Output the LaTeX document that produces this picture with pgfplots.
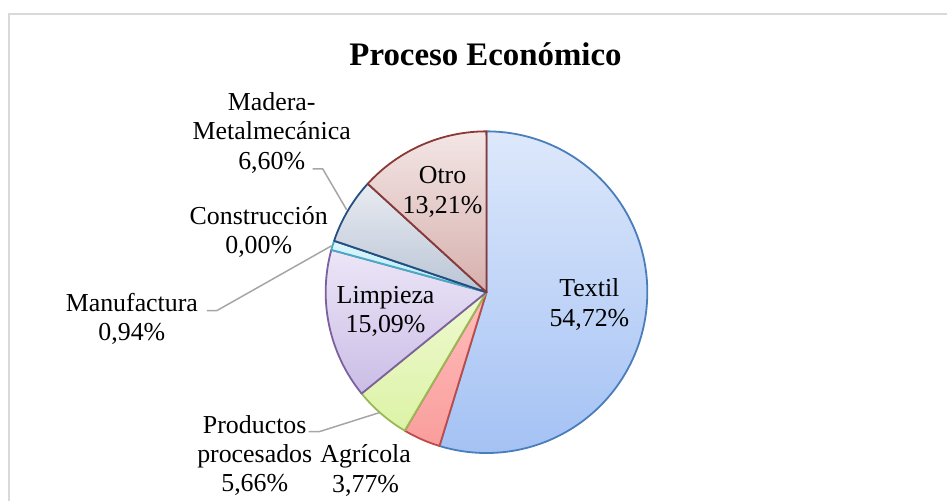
\documentclass[border=0pt]{standalone}
\usepackage{fontspec}
\setmainfont{Liberation Serif}
\usepackage{pgfplots}
\usepackage{pgfplotstable}
\pgfplotsset{compat=1.18}

% slice colours: top / bottom of gradient, border
\definecolor{t0}{HTML}{DDE8FB}\definecolor{b0}{HTML}{A3C1F4}\definecolor{d0}{HTML}{4A7EBB}
\definecolor{t1}{HTML}{FFBDBC}\definecolor{b1}{HTML}{F99E9C}\definecolor{d1}{HTML}{BE4B48}
\definecolor{t2}{HTML}{EFF9D0}\definecolor{b2}{HTML}{DCF3A6}\definecolor{d2}{HTML}{98B954}
\definecolor{t3}{HTML}{ECE6F7}\definecolor{b3}{HTML}{CBBDE6}\definecolor{d3}{HTML}{7D60A0}
\definecolor{t4}{HTML}{DDF6FC}\definecolor{b4}{HTML}{B5E8F5}\definecolor{d4}{HTML}{46AAC5}
\definecolor{t5}{HTML}{FCE0C8}\definecolor{b5}{HTML}{F9C79F}\definecolor{d5}{HTML}{1F497D}
\definecolor{t6}{HTML}{E8EBF1}\definecolor{b6}{HTML}{BAC5D5}\definecolor{d6}{HTML}{254F80}
\definecolor{t7}{HTML}{F3E6E5}\definecolor{b7}{HTML}{D6B0AD}\definecolor{d7}{HTML}{8C3836}
\definecolor{leader}{HTML}{A6A6A6}
\definecolor{frame}{HTML}{D9D9D9}

\pgfplotstableread[col sep=comma]{
label,value
Textil,54.72
Agricola,3.77
Productos procesados,5.66
Limpieza,15.09
Manufactura,0.94
Construccion,0.00
Madera-Metalmecanica,6.60
Otro,13.21
}\piedata

\newcommand{\lbl}{\fontsize{26}{29.5}\selectfont}
\newcommand{\ttl}{\fontsize{33}{37}\selectfont\bfseries}

\begin{document}
\begin{tikzpicture}
\begin{axis}[
  width=948bp, height=502bp, scale only axis,
  xmin=0, xmax=948, ymin=0, ymax=502,
  hide axis, clip=false,
]
\path (axis cs:0,0) rectangle (axis cs:948,502);
% chart frame
\draw[frame, line width=2bp] (axis cs:9,0) -- (axis cs:9,488) -- (axis cs:948,488);

% pie slices, clockwise from the top
\xdef\curang{90}
\pgfplotsforeachungrouped \i in {0,...,7}{%
  \pgfplotstablegetelem{\i}{value}\of\piedata
  \pgfmathsetmacro\endang{\curang-3.6*\pgfplotsretval}%
  \pgfmathparse{\pgfplotsretval>0 ? 1 : 0}%
  \ifnum\pgfmathresult=1
    \edef\doslice{\noexpand\shadedraw[top color=t\i, bottom color=b\i, draw=d\i, line width=1.8bp, line join=round]
      (axis cs:487,209.5) -- ++(\curang:161bp) arc[start angle=\curang, end angle=\endang, radius=161bp] -- cycle;}%
  \else
    \edef\doslice{\noexpand\draw[draw=d\i, line width=1.8bp]
      (axis cs:487,209.5) -- ++(\curang:161bp);}%
  \fi
  \doslice
  \xdef\curang{\endang}%
}

% leader lines
\draw[leader, line width=1.5bp] (axis cs:313,333) -- (axis cs:323,333) -- (axis cs:347,292);
\draw[leader, line width=1.5bp] (axis cs:207,191) -- (axis cs:217,191) -- (axis cs:332,256);
\draw[leader, line width=1.5bp] (axis cs:309,70) -- (axis cs:320,70) -- (axis cs:380,89);

% labels
\node[font=\ttl] at (axis cs:486,448) {Proceso Económico};
\node[font=\lbl, align=center] at (axis cs:590,197) {Textil\\54,72\%};
\node[font=\lbl, align=center] at (axis cs:443,310) {Otro\\13,21\%};
\node[font=\lbl, align=center] at (axis cs:272,369) {Madera-\\Metalmecánica\\6,60\%};
\node[font=\lbl, align=center] at (axis cs:259,270) {Construcción\\0,00\%};
\node[font=\lbl, align=center] at (axis cs:132,183) {Manufactura\\0,94\%};
\node[font=\lbl, align=center] at (axis cs:386,190) {Limpieza\\15,09\%};
\node[font=\lbl, align=center] at (axis cs:255,46) {Productos\\procesados\\5,66\%};
\node[font=\lbl, align=center] at (axis cs:366,31) {Agrícola\\3,77\%};
\end{axis}
\end{tikzpicture}
\end{document}
